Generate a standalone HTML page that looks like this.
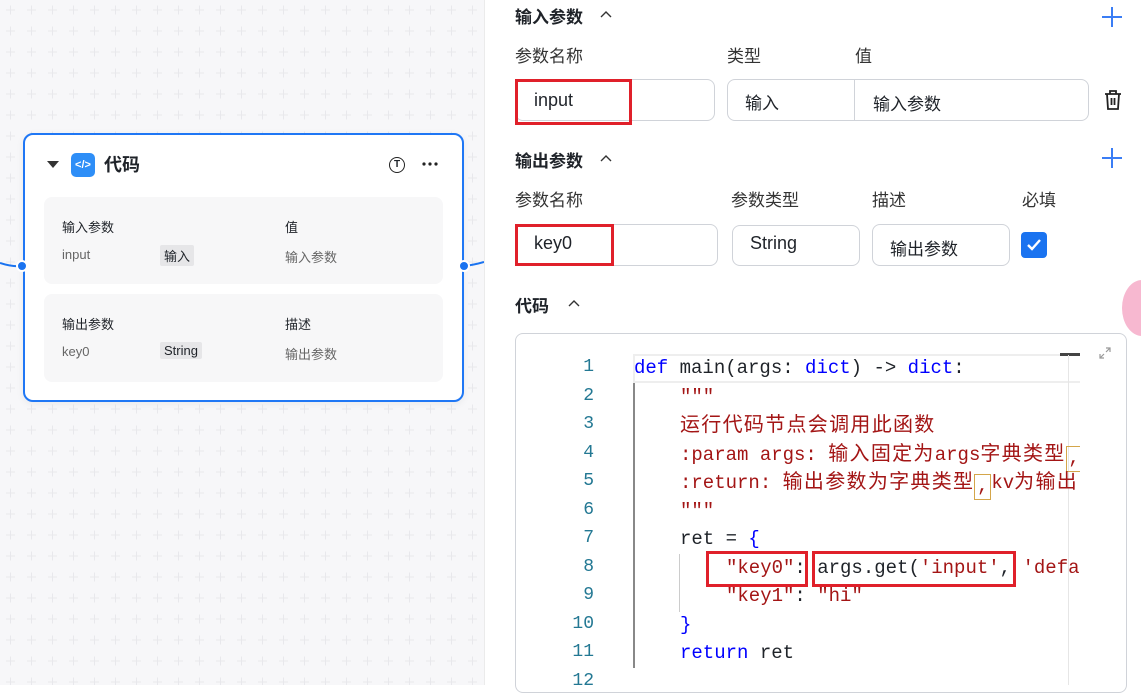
<!DOCTYPE html>
<html><head><meta charset="utf-8"><style>
*{margin:0;padding:0;box-sizing:border-box}
body{width:1141px;height:685px;overflow:hidden;position:relative;font-family:"Liberation Sans","Noto Sans CJK SC",sans-serif;background:#fff;color:#1f2329}
.a{position:absolute;white-space:nowrap}
#canvas{position:absolute;left:0;top:0;width:484px;height:685px}
.box{position:absolute;border:1px solid #d0d3d9;border-radius:8px;background:#fff}
.red{position:absolute;border:3px solid #e0202a}
.code{font-family:"Liberation Mono","Noto Sans CJK SC",monospace;font-size:19px;line-height:24px}
.code .c{font-size:20px;letter-spacing:1.3px;font-family:"Noto Sans CJK SC",sans-serif;line-height:20px}
.ln{position:absolute;width:40px;text-align:right;left:554px;color:#237893;font-family:"Liberation Mono",monospace;font-size:18px}
.kw{color:#0000ff}.st{color:#a31515}
.cm{display:inline-block;width:17px;text-align:center;border:1px solid #d4a64a;height:26px;vertical-align:-3px;line-height:22px}
</style></head><body>
<div id="canvas">
<svg width="484" height="685" style="position:absolute;left:0;top:0">
<defs><pattern id="p" width="21" height="21" patternUnits="userSpaceOnUse"><path d="M6 10h9M10.5 5.5v9" stroke="#e8e8ec" stroke-width="1"/></pattern></defs>
<rect width="484" height="685" fill="#f7f7f9"/><rect width="484" height="685" fill="url(#p)"/>
<path d="M0 263 Q12 267 22 266" stroke="#1a73f0" stroke-width="2" fill="none"/>
<path d="M464 266 Q474 265 484 262" stroke="#1a73f0" stroke-width="2" fill="none"/>
</svg>
<div class="a" style="left:23px;top:133px;width:441px;height:269px;background:#fff;border:2px solid #1f77f5;border-radius:10px;box-shadow:0 2px 8px rgba(0,0,0,.06)"></div>
<div class="a" style="left:16px;top:260px;width:12px;height:12px;border-radius:50%;background:#1a73f0;border:2px solid #fff"></div>
<div class="a" style="left:458px;top:260px;width:12px;height:12px;border-radius:50%;background:#1a73f0;border:2px solid #fff"></div>
<div class="a" style="left:47px;top:161px;width:0;height:0;border-left:6px solid transparent;border-right:6px solid transparent;border-top:7px solid #333"></div>
<div class="a" style="left:71px;top:153px;width:24px;height:24px;border-radius:5px;background:#2e8ef7;color:#fff;font-size:11px;font-weight:bold;text-align:center;line-height:24px">&lt;/&gt;</div>
<div class="a" style="left:104px;top:153px;font-size:18px;font-weight:bold;line-height:24px">代码</div>
<div class="a" style="left:389px;top:157px;width:16px;height:16px;border:1.5px solid #222;border-radius:50%;font-size:10px;text-align:center;line-height:13px;font-weight:bold">T</div>
<svg class="a" style="left:421px;top:160px" width="18" height="8"><circle cx="3" cy="4" r="1.6" fill="#222"/><circle cx="9" cy="4" r="1.6" fill="#222"/><circle cx="15" cy="4" r="1.6" fill="#222"/></svg>
<div class="a" style="left:44px;top:197px;width:399px;height:87px;background:#f7f7f8;border-radius:8px"></div>
<div class="a" style="left:44px;top:294px;width:399px;height:88px;background:#f7f7f8;border-radius:8px"></div>
<div class="a" style="left:62px;top:217px;font-size:13px">输入参数</div>
<div class="a" style="left:285px;top:217px;font-size:13px">值</div>
<div class="a" style="left:62px;top:247px;font-size:13px;color:#666">input</div>
<div class="a" style="left:160px;top:245px;font-size:13px;background:#e6e6e8;padding:1px 4px;border-radius:2px">输入</div>
<div class="a" style="left:285px;top:247px;font-size:13px;color:#666">输入参数</div>
<div class="a" style="left:62px;top:314px;font-size:13px">输出参数</div>
<div class="a" style="left:285px;top:314px;font-size:13px">描述</div>
<div class="a" style="left:62px;top:344px;font-size:13px;color:#666">key0</div>
<div class="a" style="left:160px;top:342px;font-size:13px;background:#e6e6e8;padding:1px 4px;border-radius:2px">String</div>
<div class="a" style="left:285px;top:344px;font-size:13px;color:#666">输出参数</div>
</div>
<div class="a" style="left:484px;top:0;width:1px;height:685px;background:#ebebeb"></div>

<svg class="a" style="left:0;top:0" width="1141" height="320">
<g stroke="#333" stroke-width="1.4" fill="none"><path d="M601 17l5-5 5 5M601 161l5-5 5 5M569 306l5-5 5 5"/></g>
<g stroke="#3a7df5" stroke-width="2"><path d="M1112 7v20M1102 17h20M1112 148v20M1102 158h20"/></g>
<g stroke="#555" stroke-width="1.6" fill="none"><path d="M817 95l6 6 6-6M822 240l6 6 6-6"/></g>
</svg>
<div class="a" style="left:515px;top:3px;font-size:17px;font-weight:bold">输入参数</div>
<div class="a" style="left:515px;top:42px;font-size:17px;color:#333">参数名称</div>
<div class="a" style="left:727px;top:42px;font-size:17px;color:#333">类型</div>
<div class="a" style="left:855px;top:42px;font-size:17px;color:#333">值</div>
<div class="box" style="left:515px;top:79px;width:200px;height:42px"></div>
<div class="box" style="left:727px;top:79px;width:362px;height:42px"></div>
<div class="a" style="left:854px;top:80px;width:1px;height:40px;background:#d0d3d9"></div>
<div class="red" style="left:515px;top:79px;width:117px;height:46px"></div>
<div class="a" style="left:534px;top:90px;font-size:18px">input</div>
<div class="a" style="left:745px;top:89px;font-size:17px">输入</div>
<div class="a" style="left:873px;top:90px;font-size:17px">输入参数</div>
<svg class="a" style="left:1103px;top:89px" width="20" height="22"><path d="M2 5h16M7 5V2h6v3M4 5l1 15h10l1-15M8.5 9v7M11.5 9v7" stroke="#222" stroke-width="1.8" fill="none"/></svg>

<div class="a" style="left:515px;top:147px;font-size:17px;font-weight:bold">输出参数</div>
<div class="a" style="left:515px;top:186px;font-size:17px;color:#333">参数名称</div>
<div class="a" style="left:731px;top:186px;font-size:17px;color:#333">参数类型</div>
<div class="a" style="left:872px;top:186px;font-size:17px;color:#333">描述</div>
<div class="a" style="left:1022px;top:186px;font-size:17px;color:#333">必填</div>
<div class="box" style="left:515px;top:224px;width:203px;height:42px"></div>
<div class="box" style="left:732px;top:225px;width:128px;height:41px"></div>
<div class="box" style="left:872px;top:224px;width:138px;height:42px"></div>
<div class="red" style="left:515px;top:224px;width:99px;height:42px"></div>
<div class="a" style="left:534px;top:233px;font-size:18px">key0</div>
<div class="a" style="left:750px;top:233px;font-size:18px">String</div>
<div class="a" style="left:890px;top:235px;font-size:17px">输出参数</div>
<div class="a" style="left:1021px;top:232px;width:26px;height:26px;background:#1a73f0;border-radius:4px"></div>
<svg class="a" style="left:1021px;top:232px" width="26" height="26"><path d="M7 13l4 4 8-9" stroke="#fff" stroke-width="2.4" fill="none"/></svg>

<div class="a" style="left:515px;top:292px;font-size:17px;font-weight:bold">代码</div>
<div class="a" style="left:1122px;top:280px;width:40px;height:56px;border-radius:50%;background:#f7b8d0"></div>

<div class="a" style="left:515px;top:333px;width:612px;height:360px;border:1px solid #d0d3d9;border-radius:8px;background:#fff"></div>
<div class="a" style="left:633px;top:354px;width:447px;height:29px;border:2px solid #eeeeee;border-right:none"></div>
<div class="a" style="left:1060px;top:353px;width:20px;height:3px;background:#444"></div>
<div class="a" style="left:1068px;top:355px;width:1px;height:330px;background:#e6e6e6"></div>
<div class="a" style="left:633px;top:383px;width:2px;height:285px;background:#888"></div>
<div class="a" style="left:679px;top:554px;width:1px;height:58px;background:#ccc"></div>
<svg class="a" style="left:1098px;top:346px" width="14" height="14"><path d="M8 2h4v4M12 2L8 6M6 12H2V8M2 12l4-4" stroke="#999" stroke-width="1.2" fill="none"/></svg>

<div class="ln" style="top:357px">1</div><div class="ln" style="top:386px">2</div><div class="ln" style="top:414px">3</div><div class="ln" style="top:443px">4</div><div class="ln" style="top:471px">5</div><div class="ln" style="top:500px">6</div><div class="ln" style="top:528px">7</div><div class="ln" style="top:557px">8</div><div class="ln" style="top:585px">9</div><div class="ln" style="top:614px">10</div><div class="ln" style="top:642px">11</div><div class="ln" style="top:671px">12</div>

<div style="position:absolute;left:0;top:0;width:1080px;height:685px;overflow:hidden">
<div class="a code" style="left:634px;top:356px"><span class="kw">def</span> main(args: <span class="kw">dict</span>) -&gt; <span class="kw">dict</span>:</div>
<div class="a code st" style="left:680px;top:385px">"""</div>
<div class="a code st" style="left:680px;top:413px"><span class="c">运行代码节点会调用此函数</span></div>
<div class="a code st" style="left:680px;top:442px">:param args: <span class="c">输入固定为</span>args<span class="c">字典类型</span><span class="cm">,</span></div>
<div class="a code st" style="left:680px;top:470px">:return: <span class="c">输出参数为字典类型</span><span class="cm">,</span>kv<span class="c">为输出</span></div>
<div class="a code st" style="left:680px;top:499px">"""</div>
<div class="a code" style="left:680px;top:527px">ret = <span class="kw">{</span></div>
<div class="a code" style="left:726px;top:556px"><span class="st">"key0"</span>: args.get(<span class="st">'input'</span>, <span class="st">'default'</span>)</div>
<div class="a code" style="left:726px;top:584px"><span class="st">"key1"</span>: <span class="st">"hi"</span></div>
<div class="a code kw" style="left:680px;top:613px">}</div>
<div class="a code" style="left:680px;top:641px"><span class="kw">return</span> ret</div>
</div>
<div class="red" style="left:706px;top:551px;width:102px;height:36px"></div>
<div class="red" style="left:812px;top:551px;width:204px;height:36px"></div>
</body></html>
